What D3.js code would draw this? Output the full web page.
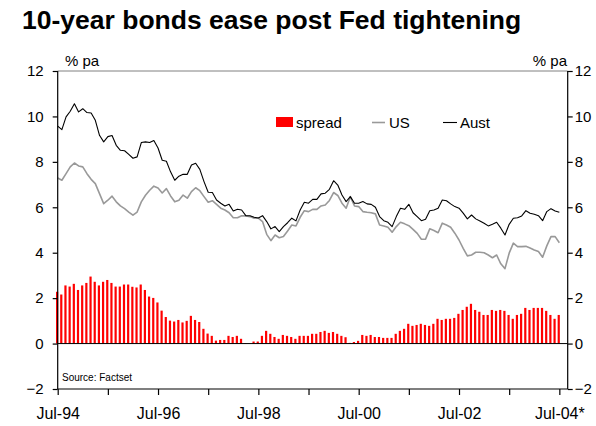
<!DOCTYPE html>
<html>
<head>
<meta charset="utf-8">
<script src="https://cdn.jsdelivr.net/npm/d3@7"></script>
<style>
  html, body { margin: 0; padding: 0; background: #fff; }
  svg { display: block; font-family: Arial, "Liberation Sans", sans-serif; }
</style>
</head>
<body>
<svg id="chart" width="596" height="426"></svg>
<script>
// Monthly 10-year bond yields, Jul-94 to Jul-04 (% pa)
const aust = [
  9.57, 9.42, 9.98, 10.23, 10.56, 10.20, 10.34, 10.17, 10.15, 9.83,
  9.17, 8.88, 9.11, 9.16, 8.73, 8.51, 8.49, 8.33, 8.16, 8.22,
  8.85, 8.88, 8.85, 8.94, 8.61, 8.07, 8.03, 7.56, 7.19, 7.37,
  7.45, 7.45, 7.86, 7.94, 7.67, 7.13, 6.66, 6.65, 6.32, 6.18,
  6.06, 6.13, 5.84, 5.91, 5.88, 5.63, 5.63, 5.56, 5.53, 5.63,
  5.37, 5.05, 5.15, 4.93, 5.15, 5.32, 5.52, 5.40, 5.88, 6.22,
  6.18, 6.35, 6.35, 6.59, 6.62, 6.79, 7.17, 6.98, 6.54, 6.25,
  6.47, 6.18, 6.18, 6.25, 6.15, 6.13, 6.00, 5.59, 5.41, 5.34,
  5.15, 5.59, 5.96, 5.91, 6.13, 5.76, 5.59, 5.41, 5.47, 5.85,
  5.88, 5.96, 6.32, 6.29, 6.15, 6.03, 5.96, 5.74, 5.49, 5.66,
  5.49, 5.40, 5.30, 5.18, 5.25, 5.34, 5.08, 4.78, 5.25, 5.52,
  5.54, 5.62, 5.85, 5.74, 5.69, 5.63, 5.41, 5.81, 5.94, 5.84, 5.78
];
const us = [
  7.29, 7.19, 7.48, 7.78, 7.95, 7.82, 7.78, 7.48, 7.23, 7.04,
  6.60, 6.16, 6.31, 6.49, 6.24, 6.06, 5.94, 5.79, 5.65, 5.79,
  6.24, 6.53, 6.75, 6.93, 6.85, 6.63, 6.82, 6.50, 6.24, 6.31,
  6.54, 6.40, 6.69, 6.86, 6.73, 6.47, 6.22, 6.29, 6.13, 5.96,
  5.88, 5.76, 5.54, 5.54, 5.63, 5.62, 5.59, 5.52, 5.52, 5.37,
  4.81, 4.53, 4.78, 4.66, 4.71, 4.96, 5.22, 5.18, 5.56, 5.85,
  5.81, 5.91, 5.91, 6.06, 6.10, 6.30, 6.65, 6.52, 6.18, 5.96,
  6.47, 6.06, 6.03, 5.81, 5.78, 5.76, 5.71, 5.22, 5.18, 5.12,
  4.90, 5.15, 5.34, 5.27, 5.19, 5.03, 4.85, 4.59, 4.60, 5.05,
  4.98, 4.88, 5.30, 5.22, 5.12, 4.86, 4.56, 4.19, 3.86, 3.90,
  4.02, 4.02, 4.00, 3.90, 3.78, 3.90, 3.51, 3.30, 3.98, 4.42,
  4.27, 4.27, 4.28, 4.21, 4.12, 4.05, 3.80, 4.30, 4.71, 4.71, 4.44
];
// Aust minus US spread (% points)
const spread = [
  2.28, 2.16, 2.56, 2.51, 2.63, 2.36, 2.56, 2.67, 2.95, 2.72,
  2.56, 2.72, 2.80, 2.67, 2.51, 2.51, 2.60, 2.60, 2.50, 2.47,
  2.60, 2.36, 2.07, 2.01, 1.81, 1.45, 1.17, 1.01, 0.97, 1.04,
  0.93, 1.00, 1.22, 1.04, 0.95, 0.65, 0.44, 0.34, 0.13, 0.16,
  0.16, 0.34, 0.29, 0.34, 0.21, 0.02, 0.00, 0.09, 0.09, 0.34,
  0.56, 0.43, 0.29, 0.21, 0.38, 0.34, 0.29, 0.21, 0.34, 0.34,
  0.34, 0.43, 0.43, 0.51, 0.56, 0.47, 0.51, 0.43, 0.34, 0.28,
  0.03, 0.07, 0.12, 0.38, 0.34, 0.38, 0.29, 0.29, 0.25, 0.25,
  0.25, 0.43, 0.56, 0.65, 0.87, 0.78, 0.82, 0.87, 0.82, 0.78,
  0.87, 1.09, 1.04, 1.09, 1.09, 1.13, 1.31, 1.48, 1.62, 1.75,
  1.48, 1.40, 1.26, 1.26, 1.48, 1.44, 1.48, 1.44, 1.26, 1.09,
  1.26, 1.31, 1.57, 1.48, 1.57, 1.57, 1.57, 1.44, 1.26, 1.09, 1.26
];
// Axis labels: every second July is labelled, every July gets a tick
const xTickLabels = ["Jul-94", "Jul-96", "Jul-98", "Jul-00", "Jul-02", "Jul-04*"];
const yTicks = [-2, 0, 2, 4, 6, 8, 10, 12];

const svg = d3.select("#chart");
const plotLeft = 57.7, plotRight = 567.7, plotTop = 71, plotBottom = 389;

// month index 0 = Jul-94; the plot runs two months past the last observation
const x = d3.scaleLinear().domain([0, 122]).range([plotLeft, plotRight]);
const y = d3.scaleLinear().domain([-2, 12]).range([plotBottom, plotTop]);
const months = d3.range(spread.length);

// title
svg.append("text")
  .attr("x", 22).attr("y", 29)
  .attr("font-size", 26.5).attr("font-weight", "bold").attr("fill", "#000")
  .text("10-year bonds ease post Fed tightening");

// top border of plot area
svg.append("line")
  .attr("x1", plotLeft).attr("x2", plotRight).attr("y1", plotTop).attr("y2", plotTop)
  .attr("stroke", "#808080").attr("stroke-width", 1);

// spread bars
svg.append("g").selectAll("rect")
  .data(months)
  .join("rect")
  .attr("x", i => x(i) - 1.7)
  .attr("width", 2.2)
  .attr("y", i => Math.min(y(spread[i]), y(0)))
  .attr("height", i => Math.abs(y(0) - y(spread[i])))
  .attr("fill", "#ff0000");

// zero line
svg.append("line")
  .attr("x1", plotLeft).attr("x2", plotRight).attr("y1", y(0)).attr("y2", y(0))
  .attr("stroke", "#000").attr("stroke-width", 1);

const line = arr => d3.line().x(i => x(i)).y(i => y(arr[i]))(months);

svg.append("path").attr("d", line(us))
  .attr("fill", "none").attr("stroke", "#999999").attr("stroke-width", 1.6)
  .attr("stroke-linejoin", "round");
svg.append("path").attr("d", line(aust))
  .attr("fill", "none").attr("stroke", "#000").attr("stroke-width", 1.1)
  .attr("stroke-linejoin", "round");

// left axis
const yLeft = d3.axisLeft(y).tickValues(yTicks).tickSize(5).tickPadding(9).tickFormat(d3.format("d"));
const gL = svg.append("g").attr("transform", `translate(${plotLeft},0)`).call(yLeft);
// right axis
const yRight = d3.axisRight(y).tickValues(yTicks).tickSize(5).tickPadding(2).tickFormat(d3.format("d"));
const gR = svg.append("g").attr("transform", `translate(${plotRight},0)`).call(yRight);
// bottom axis
const xAxis = d3.axisBottom(x).tickValues(d3.range(0, 121, 12)).tickSize(6)
  .tickFormat(i => i % 24 === 0 ? xTickLabels[i / 24] : "").tickPadding(13);
const gB = svg.append("g").attr("transform", `translate(0,${plotBottom})`).call(xAxis);

for (const g of [gL, gR, gB]) {
  g.select(".domain").attr("stroke", "#000").attr("stroke-width", 1.2);
  g.selectAll(".tick line").attr("stroke", "#000").attr("stroke-width", 1.2);
  g.selectAll(".tick text").attr("fill", "#000")
    .attr("font-family", "Arial, 'Liberation Sans', sans-serif");
}
gL.selectAll(".tick text").attr("font-size", 15);
gR.selectAll(".tick text").attr("font-size", 15);
gB.selectAll(".tick text").attr("font-size", 16);
gL.select(".domain").attr("d", `M0,${plotTop}V${plotBottom}`);
gR.select(".domain").attr("d", `M0,${plotTop}V${plotBottom}`);
gB.select(".domain").attr("d", `M${plotLeft},0H${plotRight}`);

// unit labels
svg.append("text").attr("x", 65).attr("y", 66).attr("font-size", 15).text("% pa");
svg.append("text").attr("x", 567).attr("y", 66).attr("font-size", 15)
  .attr("text-anchor", "end").text("% pa");

// legend
const lg = svg.append("g").attr("font-size", 15);
lg.append("rect").attr("x", 276).attr("y", 117).attr("width", 17).attr("height", 10).attr("fill", "#ff0000");
lg.append("text").attr("x", 296).attr("y", 128).text("spread");
lg.append("line").attr("x1", 372).attr("x2", 385).attr("y1", 122.5).attr("y2", 122.5)
  .attr("stroke", "#999999").attr("stroke-width", 1.6);
lg.append("text").attr("x", 389).attr("y", 128).text("US");
lg.append("line").attr("x1", 443).attr("x2", 457).attr("y1", 122.5).attr("y2", 122.5)
  .attr("stroke", "#000").attr("stroke-width", 1.1);
lg.append("text").attr("x", 460).attr("y", 128).text("Aust");

// source note
svg.append("text").attr("x", 62).attr("y", 381).attr("font-size", 10).text("Source: Factset");
</script>
</body>
</html>
